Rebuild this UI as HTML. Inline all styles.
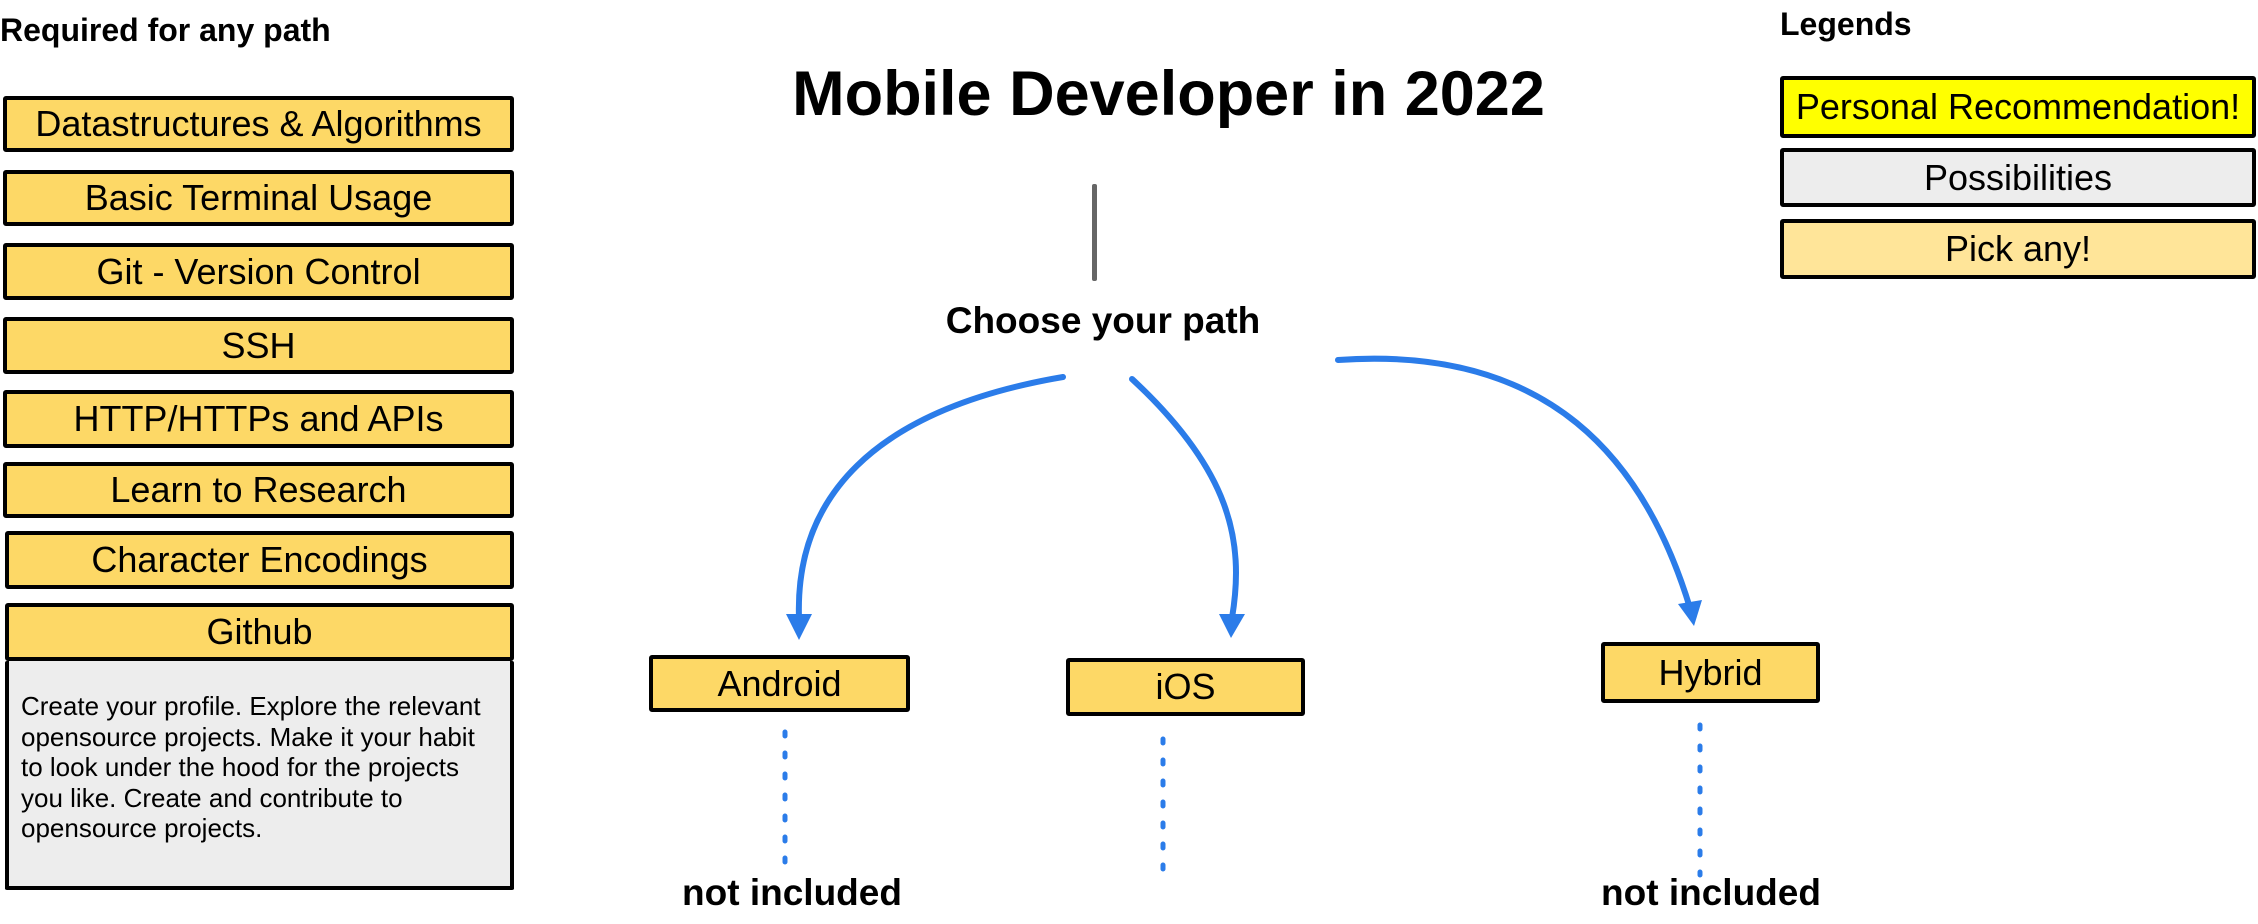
<!DOCTYPE html>
<html><head><meta charset="utf-8"><style>
html,body{margin:0;padding:0;background:#fff;}
body{width:2258px;height:924px;position:relative;overflow:hidden;font-family:"Liberation Sans",sans-serif;color:#000;}
.t{position:absolute;font-weight:bold;white-space:nowrap;}
.b{position:absolute;box-sizing:border-box;border:4px solid #000;border-radius:3px;background:#fdd866;display:flex;align-items:center;justify-content:center;font-size:36px;white-space:nowrap;}
.g{position:absolute;box-sizing:border-box;border:4px solid #000;border-top:none;border-radius:2px;background:#ededed;font-size:26px;line-height:30.5px;padding:30px 12px 0 12px;white-space:nowrap;}
</style></head><body>
<div class="t" style="left:0;top:12px;font-size:32px;">Required for any path</div>
<div class="b" style="left:3px;top:96px;width:511px;height:56px;">Datastructures &amp; Algorithms</div>
<div class="b" style="left:3px;top:170px;width:511px;height:56px;">Basic Terminal Usage</div>
<div class="b" style="left:3px;top:243px;width:511px;height:57px;">Git - Version Control</div>
<div class="b" style="left:3px;top:317px;width:511px;height:57px;">SSH</div>
<div class="b" style="left:3px;top:390px;width:511px;height:58px;">HTTP/HTTPs and APIs</div>
<div class="b" style="left:3px;top:462px;width:511px;height:56px;">Learn to Research</div>
<div class="b" style="left:5px;top:531px;width:509px;height:58px;">Character Encodings</div>
<div class="b" style="left:5px;top:603px;width:509px;height:58px;">Github</div>
<div class="g" style="left:5px;top:661px;width:509px;height:229px;">Create your profile. Explore the relevant<br>opensource projects. Make it your habit<br>to look under the hood for the projects<br>you like. Create and contribute to<br>opensource projects.</div>

<div class="t" style="left:693px;top:58px;width:951px;text-align:center;font-size:63px;">Mobile Developer in 2022</div>
<div style="position:absolute;left:1092px;top:184px;width:5px;height:97px;background:#666;border-radius:2px;"></div>
<div class="t" style="left:903px;top:300px;width:400px;text-align:center;font-size:37px;">Choose your path</div>

<svg width="2258" height="924" style="position:absolute;left:0;top:0;" fill="none">
<g stroke="#2b7ce9" stroke-width="6" stroke-linecap="round">
<path d="M1063 377 C870 410 795 500 799 618"/>
<path d="M1132 379 C1230 470 1245 540 1232 618"/>
<path d="M1338 360 C1550 345 1645 460 1690 608"/>
</g>
<g fill="#2b7ce9">
<path d="M786 614 L812 614 L799 640 Z"/>
<path d="M1219 614 L1245 614 L1231 638 Z"/>
<path d="M1678 604 L1702 600 L1694 626 Z"/>
</g>
<g stroke="#2b7ce9" stroke-width="5" stroke-linecap="round" stroke-dasharray="4 17">
<path d="M785 732 L785 864"/>
<path d="M1163 739 L1163 870"/>
<path d="M1700 725 L1700 875"/>
</g>
</svg>

<div class="b" style="left:649px;top:655px;width:261px;height:57px;">Android</div>
<div class="b" style="left:1066px;top:658px;width:239px;height:58px;">iOS</div>
<div class="b" style="left:1601px;top:642px;width:219px;height:61px;">Hybrid</div>
<div class="t" style="left:642px;top:872px;width:300px;text-align:center;font-size:37px;">not included</div>
<div class="t" style="left:1561px;top:872px;width:300px;text-align:center;font-size:37px;">not included</div>

<div class="t" style="left:1780px;top:6px;font-size:32px;">Legends</div>
<div class="b" style="left:1780px;top:76px;width:476px;height:62px;background:#ffff00;">Personal Recommendation!</div>
<div class="b" style="left:1780px;top:148px;width:476px;height:59px;background:#ededed;">Possibilities</div>
<div class="b" style="left:1780px;top:219px;width:476px;height:60px;background:#ffe599;">Pick any!</div>
</body></html>
